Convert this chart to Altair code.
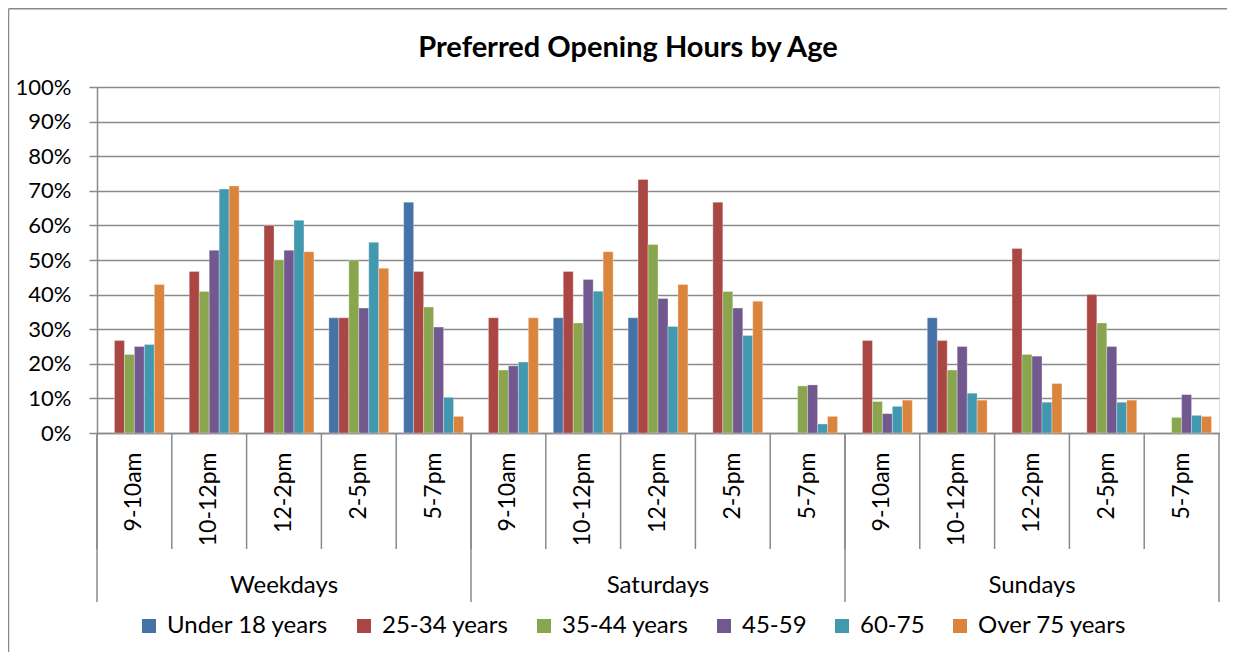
import altair as alt
import pandas as pd

days = ["Weekdays", "Saturdays", "Sundays"]
slots = ["9-10am", "10-12pm", "12-2pm", "2-5pm", "5-7pm"]
series = ["Under 18 years", "25-34 years", "35-44 years", "45-59", "60-75", "Over 75 years"]
colors = ["#4572A7", "#AA4643", "#89A54E", "#71588F", "#4198AF", "#DB843D"]
title_text = "Preferred Opening Hours by Age"

# percentages, 15 groups each: Weekdays x5, Saturdays x5, Sundays x5
under18 = [0, 0, 0, 33.3, 66.7, 0, 33.3, 33.3, 0, 0, 0, 33.3, 0, 0, 0]
age25_34 = [26.7, 46.7, 60.0, 33.3, 46.7, 33.3, 46.7, 73.3, 66.7, 0, 26.7, 26.7, 53.3, 40.0, 0]
age35_44 = [22.7, 40.9, 50.0, 50.0, 36.4, 18.2, 31.8, 54.5, 40.9, 13.6, 9.1, 18.2, 22.7, 31.8, 4.5]
age45_59 = [25.0, 52.8, 52.8, 36.1, 30.6, 19.4, 44.4, 38.9, 36.1, 13.9, 5.6, 25.0, 22.2, 25.0, 11.1]
age60_75 = [25.6, 70.5, 61.5, 55.1, 10.3, 20.5, 41.0, 30.8, 28.2, 2.6, 7.7, 11.5, 8.9, 8.9, 5.1]
over75 = [42.9, 71.4, 52.4, 47.6, 4.8, 33.3, 52.4, 42.9, 38.1, 4.8, 9.5, 9.5, 14.3, 9.5, 4.8]
values_by_series = [under18, age25_34, age35_44, age45_59, age60_75, over75]

keys = [f"{d}|{s}" for d in days for s in slots]

rows = []
for name, vals in zip(series, values_by_series):
    for k, v in zip(keys, vals):
        if v > 0:
            rows.append({"key": k, "series": name, "value": v / 100.0})
df = pd.DataFrame(rows)

W, H = 1122, 346
FONT = "Lato"
GRID = "#8a8a8a"

xscale = alt.Scale(domain=keys, paddingInner=0, paddingOuter=0)

bars = alt.Chart(df).mark_bar(stroke="white", strokeWidth=0.6, strokeOpacity=0.5).encode(
    x=alt.X("key:N", scale=xscale, sort=keys, title=None,
            axis=alt.Axis(labelExpr="split(datum.value, '|')[1]", labelAngle=-90,
                          labelAlign="right", labelBaseline="middle", labelPadding=19,
                          ticks=False, domain=True, domainColor=GRID, domainWidth=1.5,
                          labelFont=FONT, labelFontSize=23, labelColor="black", grid=False)),
    xOffset=alt.XOffset("series:N", scale=alt.Scale(domain=series, paddingInner=0, paddingOuter=0.75)),
    y=alt.Y("value:Q", scale=alt.Scale(domain=[0, 1]), title=None,
            axis=alt.Axis(values=[i / 10 for i in range(11)], format=".0%",
                          grid=True, gridColor=GRID, gridWidth=1.5,
                          domainColor=GRID, domainWidth=1.5,
                          tickColor=GRID, tickWidth=1.5, tickSize=8,
                          labelPadding=18, labelFont=FONT, labelFontSize=22,
                          labelColor="black")),
    color=alt.Color("series:N", scale=alt.Scale(domain=series, range=colors),
                    legend=alt.Legend(title=None, orient="none", direction="horizontal",
                                      legendX=40, legendY=527, symbolType="square",
                                      symbolSize=196, symbolStrokeWidth=0,
                                      labelFont=FONT, labelFontSize=24, labelColor="black",
                                      labelLimit=400,
                                      columnPadding=23, labelOffset=6, padding=0)),
)

slot_sep = pd.DataFrame({"key": keys})
day_sep = pd.DataFrame({"key": [f"{d}|{slots[0]}" for d in days]})
end_sep = pd.DataFrame({"key": [keys[-1]]})

short_rules = alt.Chart(slot_sep).mark_rule(color=GRID, strokeWidth=1.5).encode(
    x=alt.X("key:N", scale=xscale, bandPosition=0),
    y=alt.value(H), y2=alt.value(H + 116),
)
long_rules = alt.Chart(day_sep).mark_rule(color=GRID, strokeWidth=1.5).encode(
    x=alt.X("key:N", scale=xscale, bandPosition=0),
    y=alt.value(H), y2=alt.value(H + 169),
)
end_rule = alt.Chart(end_sep).mark_rule(color=GRID, strokeWidth=1.5).encode(
    x=alt.X("key:N", scale=xscale, bandPosition=1),
    y=alt.value(H), y2=alt.value(H + 169),
)

day_df = pd.DataFrame({"key": [f"{d}|{slots[2]}" for d in days], "day": days})
day_text = alt.Chart(day_df).mark_text(font=FONT, fontSize=24, color="black",
                                       align="center", baseline="alphabetic").encode(
    x=alt.X("key:N", scale=xscale, bandPosition=0.5),
    y=alt.value(506),
    text="day:N",
)

title_df = pd.DataFrame({"t": [title_text]})
title_mark = alt.Chart(title_df).mark_text(font=FONT, fontSize=29, fontWeight="bold",
                                           color="black", align="center",
                                           baseline="alphabetic").encode(
    x=alt.value(531), y=alt.value(-30.5), text="t:N",
)

border_df = pd.DataFrame({"k": [0]})
border_left = alt.Chart(border_df).mark_rule(color=GRID, strokeWidth=1.5).encode(
    x=alt.value(-88.5), y=alt.value(-78.3), y2=alt.value(H + 300),
)
border_top = alt.Chart(border_df).mark_rule(color=GRID, strokeWidth=1.5).encode(
    x=alt.value(-88.5), x2=alt.value(W + 50), y=alt.value(-78.3),
)

chart = alt.layer(bars, short_rules, long_rules, end_rule, day_text, title_mark,
                  border_left, border_top).properties(
    width=W, height=H,
    autosize=alt.AutoSizeParams(type="none"),
    padding={"left": 89, "top": 79, "right": 8, "bottom": 219},
).configure_view(stroke=None).configure(background="white")

chart.save("out.html", embed_options={"renderer": "svg", "actions": False})
